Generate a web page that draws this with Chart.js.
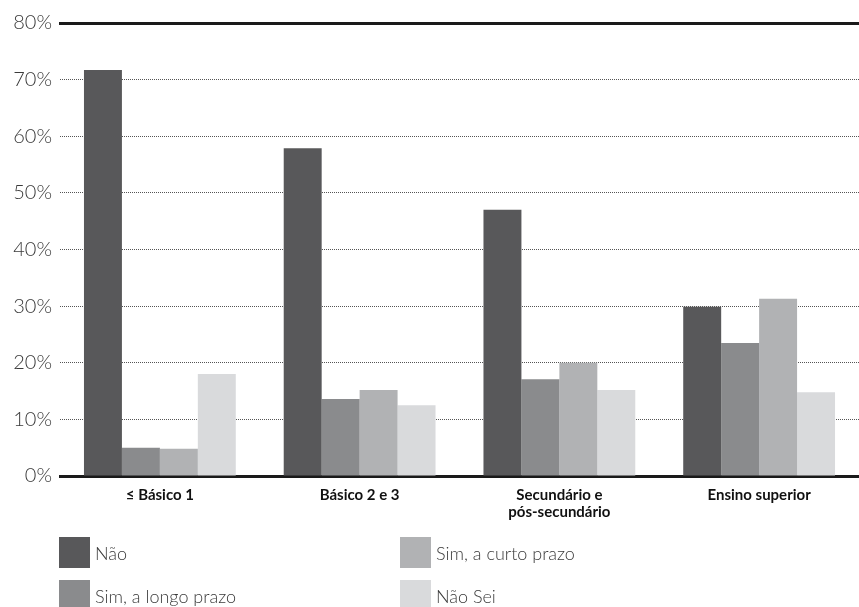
<!DOCTYPE html>
<html>
<head>
<meta charset="utf-8">
<script src="https://cdn.jsdelivr.net/npm/chart.js@4"></script>
<style>
    body { margin: 0; background: #fff; }
    #wrap { position: absolute; left: 0; top: 0; width: 859px; height: 530px; }
    #legenda { position: absolute; left: 0; top: 0; width: 859px; height: 607px; pointer-events: none; }
    .item { position: absolute; display: flex; align-items: center; font-family: Lato, sans-serif; font-weight: 300; font-size: 18px; color: #3a3a3a; }
    .caixa { width: 31px; height: 31px; margin-right: 5px; }
</style>
</head>
<body>
<div id="wrap"><canvas id="grafico"></canvas></div>
<div id="legenda"></div>
<script>
const categorias = ['≤ Básico 1', 'Básico 2 e 3', ['Secundário e', 'pós-secundário'], 'Ensino superior'];
const series = ['Não', 'Sim, a longo prazo', 'Sim, a curto prazo', 'Não Sei'];
const nao = [71.7, 57.9, 47.0, 29.9];
const simLongo = [5.0, 13.6, 17.1, 23.5];
const simCurto = [4.8, 15.2, 20.0, 31.3];
const naoSei = [18.0, 12.5, 15.2, 14.8];
const ticksY = [0, 10, 20, 30, 40, 50, 60, 70, 80];

const cores = ['#58585a', '#8a8b8d', '#b1b2b4', '#d9dadc'];
const valores = [nao, simLongo, simCurto, naoSei];

document.addEventListener("DOMContentLoaded", function () {
    const ctx = document.getElementById('grafico').getContext('2d');

    const grafico = new Chart(ctx, {
        type: 'bar',
        data: {
            labels: categorias,
            datasets: series.map(function (nome, i) {
                return {
                    label: nome,
                    data: valores[i],
                    backgroundColor: cores[i],
                    borderWidth: 0,
                    categoryPercentage: 0.76,
                    barPercentage: 1
                };
            })
        },
        options: {
            responsive: true,
            maintainAspectRatio: false,
            animation: false,
            layout: { padding: { top: 23, right: 0, bottom: 0, left: 0 } },
            scales: {
                x: {
                    position: 'bottom',
                    grid: { display: false },
                    border: { display: true, color: '#1a1a1a', width: 3 },
                    ticks: {
                        color: '#111',
                        font: { family: 'Lato', weight: 'bold', size: 15, lineHeight: 1.13 },
                        padding: 3
                    },
                    afterFit: function (s) { s.height = 54; }
                },
                topo: {
                    type: 'category',
                    position: 'top',
                    labels: categorias,
                    grid: { display: false },
                    border: { display: true, color: '#1a1a1a', width: 3 },
                    ticks: { display: false },
                    afterFit: function (s) { s.height = 0; }
                },
                y: {
                    min: 0,
                    max: 80,
                    afterBuildTicks: function (s) {
                        s.ticks = ticksY.map(function (v) { return { value: v }; });
                    },
                    grid: {
                        drawTicks: false,
                        lineWidth: 1,
                        color: function (c) {
                            const v = c.tick ? c.tick.value : null;
                            return (v === 0 || v === 80) ? 'rgba(0,0,0,0)' : '#555';
                        }
                    },
                    border: { display: false, dash: [1, 1] },
                    ticks: {
                        color: '#3a3a3a',
                        padding: 8,
                        font: { family: 'Lato', weight: 300, size: 20 },
                        callback: function (v) { return v + '%'; }
                    },
                    afterFit: function (s) { s.width = 60; }
                }
            },
            plugins: {
                legend: { display: false },
                tooltip: { enabled: false }
            }
        }
    });

    // legenda em duas colunas, preenchida por coluna
    const legenda = document.getElementById('legenda');
    const colX = [59, 400];
    const linhaY = [537, 580];
    grafico.data.datasets.forEach(function (ds, i) {
        const item = document.createElement('div');
        item.className = 'item';
        item.style.left = colX[Math.floor(i / 2)] + 'px';
        item.style.top = linhaY[i % 2] + 'px';
        item.innerHTML = '<div class="caixa" style="background:' + ds.backgroundColor + '"></div><span>' + ds.label + '</span>';
        legenda.appendChild(item);
    });
});
</script>
</body>
</html>
